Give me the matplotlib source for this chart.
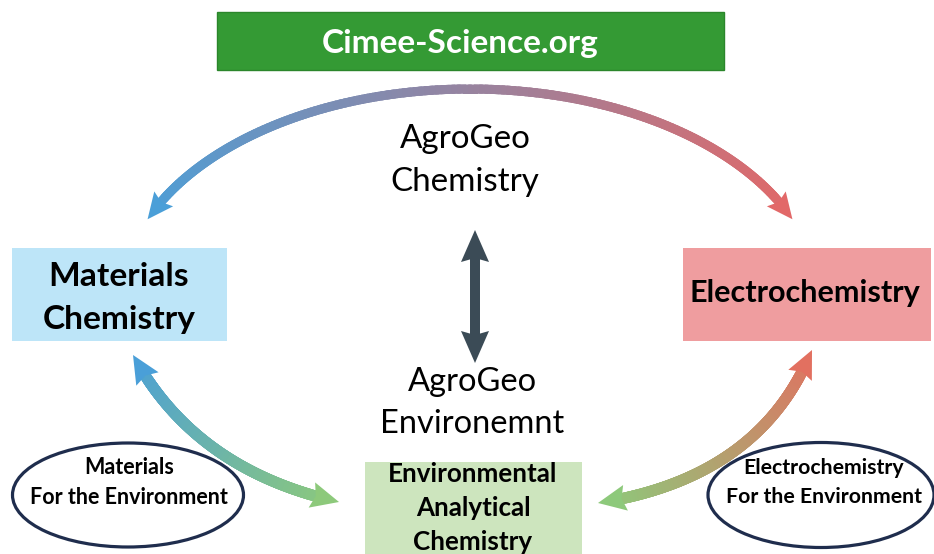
import numpy as np
import matplotlib.pyplot as plt
from matplotlib.collections import LineCollection
from matplotlib.patches import Rectangle, Ellipse, Polygon
from matplotlib.colors import to_rgb

# labels of the diagram
title_text = "Cimee-Science.org"
center_top = ["AgroGeo", "Chemistry"]
center_mid = ["AgroGeo", "Environemnt"]
left_box = ["Materials", "Chemistry"]
right_box = ["Electrochemistry"]
bottom_box = ["Environmental", "Analytical", "Chemistry"]
left_oval = ["Materials", "For the Environment"]
right_oval = ["Electrochemistry", "For the Environment"]

FONT = "Lato"
W, H = 934, 554

fig = plt.figure(figsize=(W / 100, H / 100), dpi=100)
ax = fig.add_axes([0, 0, 1, 1])
ax.set_xlim(0, W)
ax.set_ylim(H, 0)
ax.axis("off")
renderer = fig.canvas.get_renderer()


def fit_lines(lines, xc, ys, width, weight="normal", color="black", z=5):
    # size the block so its widest line has the wanted pixel width
    texts = [ax.text(xc, y, s, ha="center", va="center", fontsize=20,
                     family=FONT, weight=weight, color=color, zorder=z)
             for s, y in zip(lines, ys)]
    widest = max(t.get_window_extent(renderer).width for t in texts)
    for t in texts:
        t.set_fontsize(20 * width / widest)


def grad_arrow(pts, c0, c1, lw, hw, hl, z=3, notch=4):
    pts = np.asarray(pts, float)
    d = np.r_[0, np.cumsum(np.hypot(*np.diff(pts, axis=0).T))]
    total = d[-1]
    keep = (d >= hl - notch) & (d <= total - hl + notch)
    p = pts[keep]
    f = d[keep] / total
    c0, c1 = np.array(to_rgb(c0)), np.array(to_rgb(c1))
    segs = np.stack([p[:-1], p[1:]], axis=1)
    fm = (f[:-1] + f[1:]) / 2
    cols = c0 + (c1 - c0) * fm[:, None]
    ax.add_collection(LineCollection(segs, colors=cols, linewidths=lw * 0.72,
                                     capstyle="projecting", zorder=z))
    for tip, dist, col in ((pts[0], hl, c0), (pts[-1], total - hl, c1)):
        base = np.array([np.interp(dist, d, pts[:, 0]), np.interp(dist, d, pts[:, 1])])
        u = (tip - base) / np.linalg.norm(tip - base)
        n = np.array([-u[1], u[0]])
        poly = [tip, base + n * hw / 2, base + u * notch, base - n * hw / 2]
        ax.add_patch(Polygon(poly, closed=True, fc=col, ec="none", zorder=z + 0.1))


def bezier(p0, p1, p2, n=120):
    t = np.linspace(0, 1, n)[:, None]
    p0, p1, p2 = map(np.array, (p0, p1, p2))
    return (1 - t) ** 2 * p0 + 2 * (1 - t) * t * p1 + t ** 2 * p2


# title banner
ax.add_patch(Rectangle((217, 12), 507, 58, fc="#349a34", ec="#2b862b", lw=1, zorder=2))
fit_lines([title_text], 460, [44], 278, weight="bold", color="white")

# boxes
ax.add_patch(Rectangle((12, 248), 215, 93, fc="#bde5f8", ec="none", zorder=1))
ax.add_patch(Rectangle((683, 248), 248, 93, fc="#ef9d9f", ec="none", zorder=1))
ax.add_patch(Rectangle((365, 462), 217, 100, fc="#cde5be", ec="none", zorder=1))
fit_lines(left_box, 119, [277, 319], 153, weight="bold")
fit_lines(right_box, 805, [293], 231, weight="bold")
fit_lines(bottom_box, 473, [474, 508, 542], 169, weight="bold")

# center labels
fit_lines(center_top, 465, [139, 182], 149)
fit_lines(center_mid, 472, [382, 424], 185)

# ovals
ax.add_patch(Ellipse((128, 495), 231, 104, fc="white", ec="#1f2d4d", lw=2.3, zorder=2))
ax.add_patch(Ellipse((821, 495), 226, 105, fc="white", ec="#1f2d4d", lw=2.3, zorder=2))
fit_lines(left_oval, 129, [468, 497], 198, weight="bold", z=6)
fit_lines(right_oval, 824, [468, 497], 196, weight="bold", z=6)

# arrows
th = np.radians(np.linspace(157.5, 22.5, 150))
arc = np.c_[470 + 349 * np.cos(th), 300 - 211 * np.sin(th)]
grad_arrow(arc, "#4b9fd8", "#e26868", lw=9, hw=24, hl=26)
vert = np.c_[np.full(60, 475.0), np.linspace(230, 363, 60)]
grad_arrow(vert, "#3b4b56", "#3b4b56", lw=10, hw=28, hl=32)
grad_arrow(bezier((133, 355), (195, 470), (339, 502)), "#4a9fd8", "#8dc97b",
           lw=11, hw=26, hl=28)
grad_arrow(bezier((812, 350), (760, 478), (598, 503)), "#e27060", "#8dc97b",
           lw=11, hw=26, hl=28)

fig.savefig("out.png", dpi=100)
plt.close(fig)
